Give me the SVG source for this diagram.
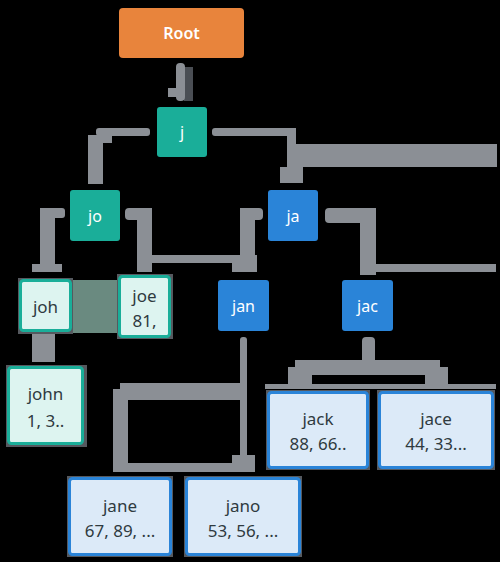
<svg xmlns="http://www.w3.org/2000/svg" width="500" height="562" viewBox="0 0 500 562">
<style>
.g{fill:#8b8f95}
.gd{fill:#4a4e54}
.halo{fill:#55595f}
.t{font-family:"Noto Sans","DejaVu Sans",sans-serif;font-size:16px;text-anchor:middle;dominant-baseline:central}
.big{font-size:17px}
.w{fill:#ffffff}
.d{fill:#2f3a40}
.or{fill:#E8843C}
.tl{fill:#1AAE99}
.bl{fill:#2A84D8}
.lt{fill:#DDF4F0;stroke:#1AAE99;stroke-width:3}
.lb{fill:#DCEAF8;stroke:#2A84D8;stroke-width:3}
</style>
<rect width="500" height="562" fill="#000000"/>
<g id="connectors">
  <!-- Root to j -->
  <rect class="gd" x="184" y="67" width="9" height="34"/>
  <rect class="g" x="176" y="63" width="9" height="38" rx="4"/>
  <rect class="g" x="168" y="88" width="17" height="9"/>
  <!-- j to jo -->
  <rect class="g" x="96" y="128" width="54" height="8" rx="3"/>
  <rect class="g" x="88" y="135" width="15" height="49"/>
  <rect class="g" x="96" y="135" width="16" height="8"/>
  <!-- j to ja -->
  <rect class="g" x="212" y="128" width="84" height="8" rx="3"/>
  <rect class="g" x="287" y="128" width="9" height="50"/>
  <rect class="g" x="280" y="167" width="23" height="16"/>
  <rect class="g" x="296" y="144" width="201" height="23"/>
  <!-- jo to joh -->
  <rect class="g" x="48" y="208" width="17" height="10" rx="3"/>
  <rect class="g" x="40" y="208" width="15" height="58"/>
  <rect class="g" x="32" y="264" width="30" height="8"/>
  <!-- jo to joe / jan -->
  <rect class="g" x="125" y="208" width="27" height="12" rx="4"/>
  <rect class="g" x="137" y="208" width="15" height="64"/>
  <rect class="g" x="152" y="255" width="90" height="8"/>
  <!-- ja to jan -->
  <rect class="g" x="240" y="208" width="23" height="12" rx="4"/>
  <rect class="g" x="240" y="208" width="15" height="50"/>
  <rect class="g" x="232" y="255" width="25" height="17"/>
  <!-- ja to jac -->
  <rect class="g" x="325" y="208" width="50" height="15" rx="4"/>
  <rect class="g" x="360" y="208" width="16" height="67"/>
  <rect class="g" x="376" y="264" width="120" height="8"/>
  <!-- joh to john -->
  <rect class="g" x="32" y="334" width="23" height="28"/>
  <!-- jan to jane / jano -->
  <rect class="g" x="240" y="337" width="7" height="130" rx="3"/>
  <rect class="g" x="120" y="383" width="127" height="8"/>
  <rect class="g" x="113" y="389" width="127" height="11"/>
  <rect class="g" x="113" y="389" width="15" height="82"/>
  <rect class="g" x="113" y="463" width="142" height="9"/>
  <rect class="g" x="232" y="455" width="23" height="17"/>
  <!-- jac to jack / jace -->
  <rect class="g" x="362" y="337" width="13" height="30" rx="4"/>
  <rect class="g" x="295" y="360" width="145" height="9"/>
  <rect class="g" x="288" y="367" width="160" height="8"/>
  <rect class="g" x="288" y="367" width="24" height="17"/>
  <rect class="g" x="425" y="367" width="23" height="17"/>
  <rect class="g" x="265" y="384" width="231" height="5"/>
</g>
<g id="root">
  <rect class="or" x="119" y="8" width="125" height="50" rx="4"/>
  <text class="t w" x="181.5" y="33" font-weight="600">Root</text>
</g>
<g id="j">
  <rect class="tl" x="157" y="107" width="50" height="50" rx="3"/>
  <text class="t w" x="182" y="132">j</text>
</g>
<g id="jo">
  <rect class="tl" x="70" y="190" width="50" height="51" rx="3"/>
  <text class="t w" x="95" y="216">jo</text>
</g>
<g id="ja">
  <rect class="bl" x="268" y="190" width="50" height="51" rx="3"/>
  <text class="t w" x="293" y="216">ja</text>
</g>
<g id="joh">
  <rect fill="#6A8A80" x="70" y="280" width="48" height="53"/>
  <rect class="halo" x="18" y="278" width="55" height="56"/>
  <rect class="lt" x="20.5" y="280.5" width="50" height="50" rx="3"/>
  <text class="t d big" x="45.5" y="306">joh</text>
</g>
<g id="joe">
  <rect class="halo" x="117" y="274" width="56" height="65"/>
  <rect class="lt" x="119.5" y="276.5" width="50" height="60" rx="3"/>
  <text class="t d big" x="144.5" y="295">joe</text>
  <text class="t d big" x="144.5" y="320">81,</text>
</g>
<g id="jan">
  <rect class="bl" x="218" y="280" width="51" height="51" rx="3"/>
  <text class="t w" x="243.5" y="306">jan</text>
</g>
<g id="jac">
  <rect class="bl" x="342" y="280" width="51" height="51" rx="3"/>
  <text class="t w" x="367.5" y="306">jac</text>
</g>
<g id="john">
  <rect class="halo" x="6" y="365" width="81" height="82"/>
  <rect class="lt" x="8.5" y="367.5" width="74" height="76" rx="3"/>
  <text class="t d big" x="45.5" y="393">john</text>
  <text class="t d big" x="45.5" y="420">1, 3..</text>
</g>
<g id="jack">
  <rect class="halo" x="266" y="390" width="104" height="80"/>
  <rect class="lb" x="268.5" y="392.5" width="99" height="75" rx="3"/>
  <text class="t d big" x="318" y="418">jack</text>
  <text class="t d big" x="318" y="443">88, 66..</text>
</g>
<g id="jace">
  <rect class="halo" x="377" y="390" width="118" height="80"/>
  <rect class="lb" x="379.5" y="392.5" width="113" height="75" rx="3"/>
  <text class="t d big" x="436" y="418">jace</text>
  <text class="t d big" x="436" y="443">44, 33...</text>
</g>
<g id="jane">
  <rect class="halo" x="67" y="476" width="106" height="81"/>
  <rect class="lb" x="69.5" y="478.5" width="101" height="76" rx="3"/>
  <text class="t d big" x="120" y="505">jane</text>
  <text class="t d big" x="120" y="530">67, 89, ...</text>
</g>
<g id="jano">
  <rect class="halo" x="184" y="476" width="118" height="81"/>
  <rect class="lb" x="186.5" y="478.5" width="113" height="76" rx="3"/>
  <text class="t d big" x="243" y="505">jano</text>
  <text class="t d big" x="243" y="530">53, 56, ...</text>
</g>
</svg>
